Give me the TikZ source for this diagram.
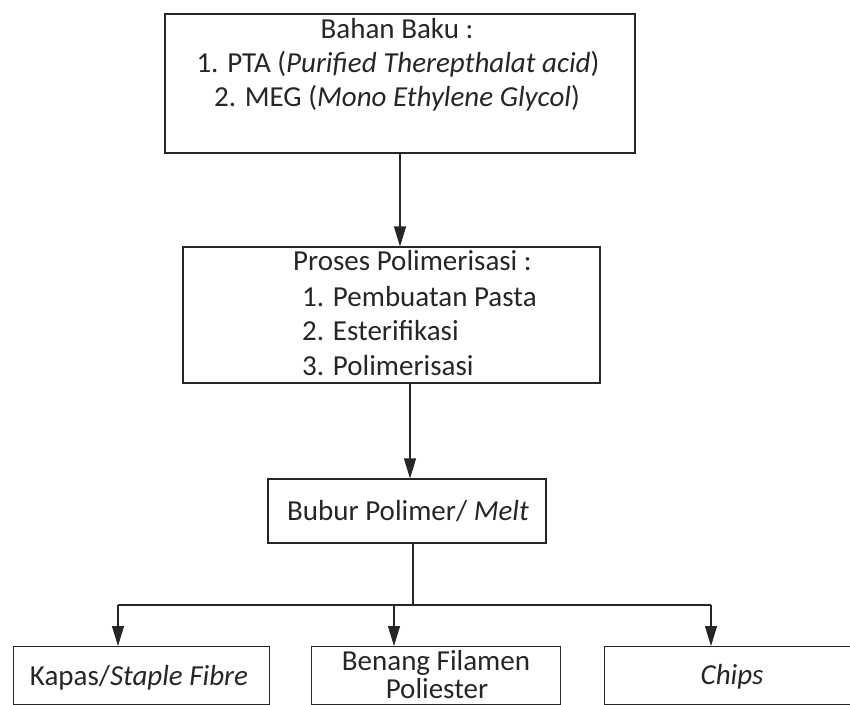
\documentclass[tikz,border=0pt]{standalone}
\usepackage{fontspec}
\setmainfont{Carlito}
\usetikzlibrary{arrows.meta}
\begin{document}
\begin{tikzpicture}[x=1pt,y=-1pt,
  box/.style={draw=black!85,line width=1.1pt,inner sep=0pt},
  txt/.style={inner sep=0pt,font=\fontsize{29}{34}\selectfont,text=black!85},
  conn/.style={draw=black!85,line width=1.1pt},
  arr/.style={conn,-{Triangle[length=20pt,width=12pt]}}]
\useasboundingbox (0,0) rectangle (850,704);
\clip (0,0) rectangle (850,704);
% boxes
\node[box,minimum width=470pt,minimum height=139pt] (b1) at (400,83.5) {};
\node[box,minimum width=417pt,minimum height=136pt] (b2) at (391.5,315) {};
\node[box,minimum width=278pt,minimum height=64pt] (b3) at (407,511) {};
\node[box,minimum width=256pt,minimum height=58pt,anchor=north west] (b4) at (13,646) {};
\node[box,minimum width=249pt,minimum height=58pt,anchor=north west] (b5) at (311,646) {};
\node[box,minimum width=260pt,minimum height=58pt,anchor=north west] (b6) at (604,646) {};
% texts
\node[txt,anchor=base] (t1a) at (397,38) {Bahan Baku :};
\node[txt,anchor=base] (t1b) at (398,72) {1. PTA (\textit{Purified Therepthalat acid})};
\node[txt,anchor=base] (t1c) at (397,106) {2. MEG (\textit{Mono Ethylene Glycol})};
\node[txt,anchor=base west] (t2a) at (293,270) {Proses Polimerisasi :};
\node[txt,anchor=base west] (t2b) at (302,306) {1. Pembuatan Pasta};
\node[txt,anchor=base west] (t2c) at (302,340) {2. Esterifikasi};
\node[txt,anchor=base west] (t2d) at (302,375) {3. Polimerisasi};
\node[txt,anchor=base] (t3) at (408,520) {Bubur Polimer/ \textit{Melt}};
\node[txt,anchor=base] (t4) at (139,685) {Kapas/\textit{Staple Fibre}};
\node[txt,anchor=base] (t5a) at (436,670) {Benang Filamen};
\node[txt,anchor=base] (t5b) at (437,698) {Poliester};
\node[txt,anchor=base] (t6) at (732,684) {\textit{Chips}};
% connectors
\coordinate (j) at (413,605);
\coordinate (jl) at (118,605);
\coordinate (jm) at (394,605);
\coordinate (jr) at (711,605);
\draw[arr] (b1.south -| 400,0) -- (b2.north -| 400,0);
\draw[arr] (b2.south -| 410,0) -- (b3.north -| 410,0);
\draw[conn] (b3.south -| j) -- (j);
\draw[conn] (jl) -- (jr);
\draw[arr] (jl) -- (b4.north -| jl);
\draw[arr] (jm) -- (b5.north -| jm);
\draw[arr] (jr) -- (b6.north -| jr);
\end{tikzpicture}
\end{document}
